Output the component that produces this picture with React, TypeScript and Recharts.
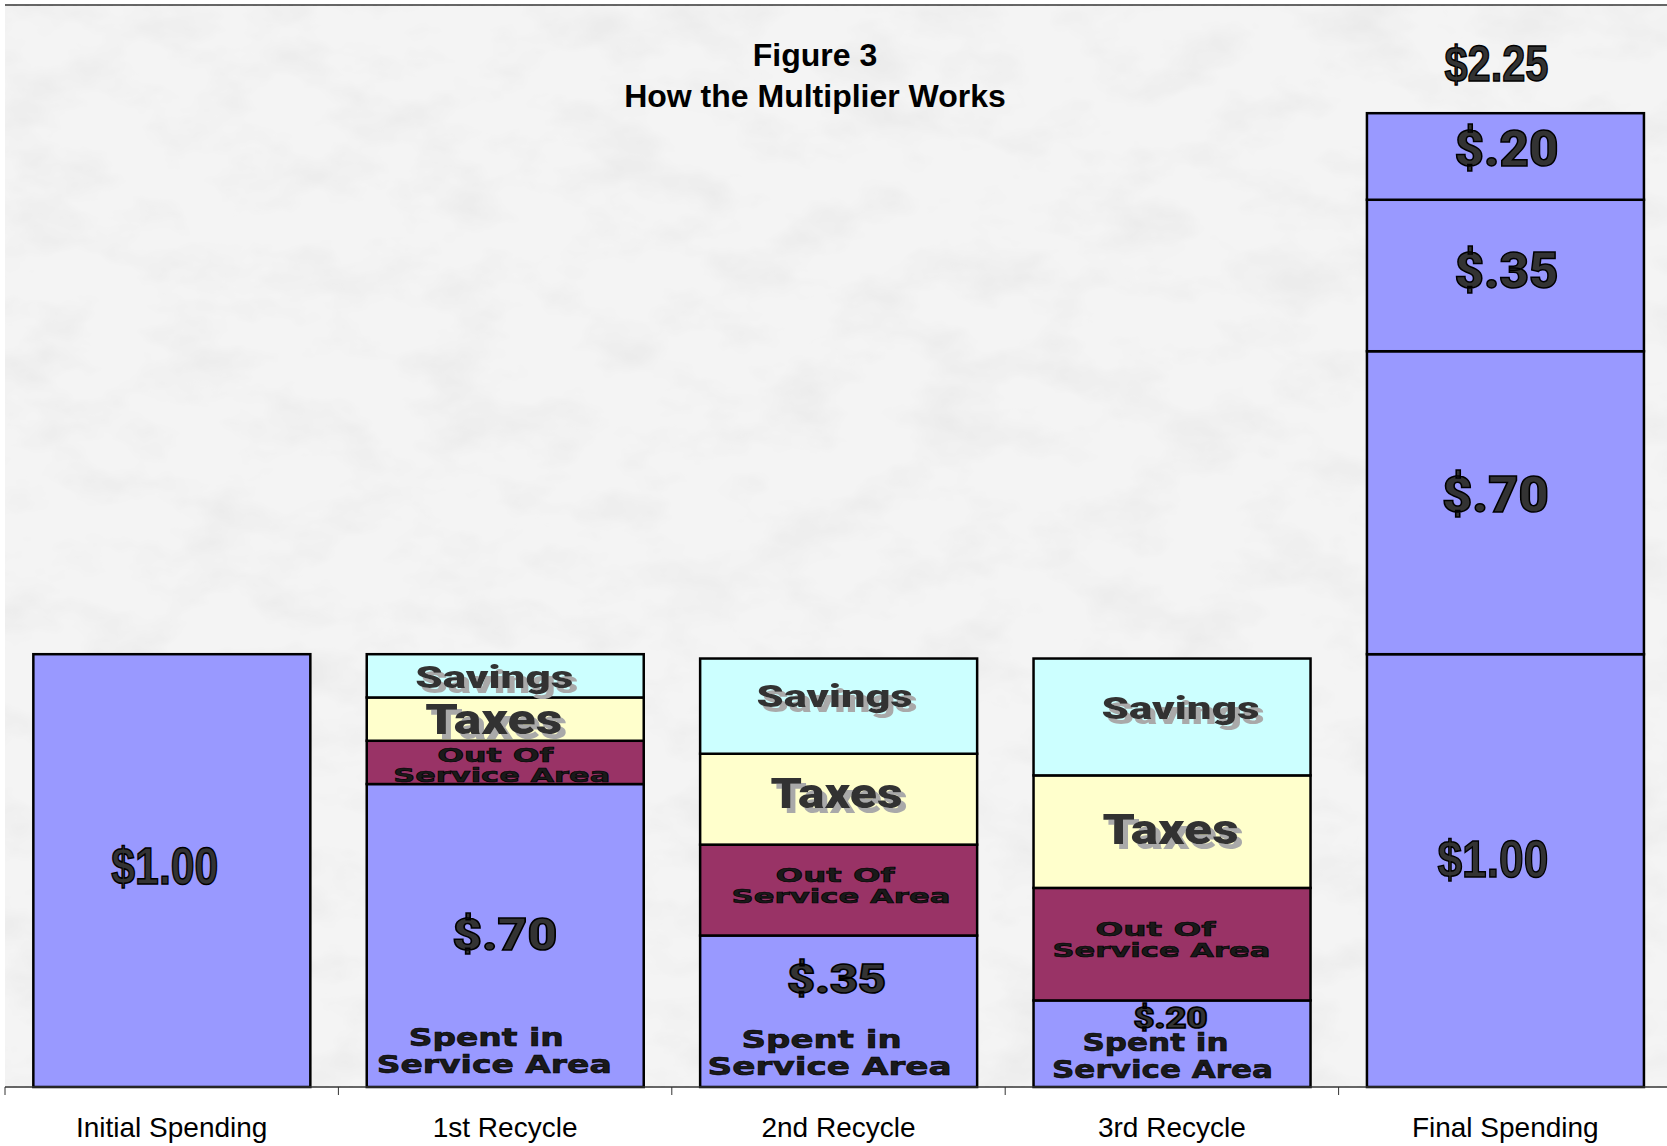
import React from "react";
import { BarChart, Bar, XAxis, YAxis, CartesianGrid, ReferenceLine } from "recharts";

// ---------- data ----------
const categories = ["Initial Spending", "1st Recycle", "2nd Recycle", "3rd Recycle", "Final Spending"];
const spentInServiceArea = [1.0, 0.7, 0.35, 0.2, 1.0];
const outOfServiceArea = [0, 0.1, 0.21, 0.26, 0];
const taxes = [0, 0.1, 0.21, 0.26, 0];
const savings = [0, 0.1, 0.22, 0.27, 0];
const firstRecycleRespent = [0, 0, 0, 0, 0.7];
const secondRecycleRespent = [0, 0, 0, 0, 0.35];
const thirdRecycleRespent = [0, 0, 0, 0, 0.2];
const spentValueLabels = ["$1.00", "$.70", "$.35", "$.20", "$1.00"];
const respentLabels = ["$.70", "$.35", "$.20"];
const totalLabel = "$2.25";
const gridValues = [0.226, 0.983, 1.737];
const titleLines = ["Figure 3", "How the Multiplier Works"];

const data = categories.map((c, i) => ({
  category: c,
  spent: spentInServiceArea[i],
  out: outOfServiceArea[i],
  taxes: taxes[i],
  savings: savings[i],
  r1: firstRecycleRespent[i],
  r2: secondRecycleRespent[i],
  r3: thirdRecycleRespent[i],
}));

// ---------- layout / style ----------
const W = 1672;
const H = 1146;
const MARGIN = { top: 5, right: 0, bottom: 0, left: 5 };
const HALF_BAND = (W - MARGIN.left - MARGIN.right) / categories.length / 2;

const COLORS = {
  spent: "#9999ff",
  out: "#993366",
  taxes: "#ffffcc",
  savings: "#ccffff",
};

const spentValueLayout: any[] = [
  { dx: -7, dy: 13.5, w: 107, fs: 52, condensed: true },
  { dx: -0.5, dy: 14.5, w: 105, fs: 45 },
  { dx: -2, dy: -18, w: 99, fs: 41 },
  { dx: -1.5, dy: -16, w: 74, fs: 29 },
  { dx: -12.5, dy: 6.5, w: 111, fs: 52, condensed: true },
];
const spentTextLayout: any[] = [
  null,
  [{ dx: -19, dy: -41, w: 155 }, { dx: -11, dy: -14, w: 235 }],
  [{ dx: -17, dy: -39, w: 160 }, { dx: -9, dy: -12, w: 244 }],
  [{ dx: -16.5, dy: -36, w: 146 }, { dx: -9.5, dy: -9, w: 221 }],
  null,
];
const outTextLayout: any[] = [
  null,
  [{ dx: -10, dy: -0.5, w: 116 }, { dx: -3.5, dy: 19.5, w: 217 }],
  [{ dx: -3.5, dy: -8, w: 119 }, { dx: 2.5, dy: 13, w: 219 }],
  [{ dx: -16.5, dy: -8, w: 120 }, { dx: -10.5, dy: 13, w: 218 }],
  null,
];
const taxesLayout: any[] = [null, { dx: -11.5, dy: 15, w: 137 }, { dx: -2, dy: 8.5, w: 132 }, { dx: -1.5, dy: 12, w: 136 }, null];
const savingsLayout: any[] = [null, { dx: -11, dy: 12, w: 158 }, { dx: -4, dy: 1, w: 156 }, { dx: 8.5, dy: 2.5, w: 158 }, null];
const respentLayout: any[] = [
  { dx: -10, dy: 9.5, w: 107, fs: 50 },
  { dx: 1, dy: 12.5, w: 104, fs: 50 },
  { dx: 1, dy: 10, w: 104, fs: 50 },
];
const totalLayout = { dx: -9, dy: -32, w: 104, fs: 50, condensed: true };

const WIDE_FONT = "Roboto, 'DejaVu Sans', sans-serif";
const COND_FONT = "'Liberation Sans', Arial, sans-serif";
const EXT_FONT = "'DejaVu Sans', sans-serif";

// ---------- text helpers ----------
const Dollar = ({ x, y, text, l }: any) => (
  <text
    x={x}
    y={y}
    textAnchor="middle"
    textLength={l.w}
    lengthAdjust="spacingAndGlyphs"
    fontFamily={l.condensed ? COND_FONT : WIDE_FONT}
    fontWeight={l.condensed ? 700 : 900}
    fontSize={l.fs}
    fill="#333333"
    stroke="#000"
    strokeWidth={1.5}
  >
    {text}
  </text>
);

const Shadowed = ({ x, y, text, w, fs }: any) => (
  <text x={x} y={y} textAnchor="middle" textLength={w} lengthAdjust="spacingAndGlyphs"
    fontFamily={WIDE_FONT} fontWeight={900} fontSize={fs} fill="#333333" filter="url(#textShadow)">
    {text}
  </text>
);

const Extended = ({ x, y, text, w, fs }: any) => (
  <text x={x} y={y} textAnchor="middle" textLength={w} lengthAdjust="spacingAndGlyphs"
    fontFamily={EXT_FONT} fontWeight={700} fontSize={fs} fill="#1a1a1a" stroke="#000" strokeWidth={0.6}>
    {text}
  </text>
);

// ---------- shapes ----------
const makeShape = (fill: string, labels: (i: number, g: any) => any) => (props: any) => {
  const { x, y, width, height, index } = props;
  if (!height || Math.abs(height) < 0.5) return null;
  const top = Math.min(y, y + height);
  const h = Math.abs(height);
  const g = { cx: x + width / 2, cy: top + h / 2, top, bottom: top + h };
  return (
    <g>
      <rect x={x} y={top} width={width} height={h} fill={fill} stroke="#000" strokeWidth={2.5} />
      {labels(index, g)}
    </g>
  );
};

const spentShape = makeShape(COLORS.spent, (i, g) => {
  const l = spentValueLayout[i];
  const t = spentTextLayout[i];
  return (
    <g>
      <Dollar x={g.cx + l.dx} y={g.cy + l.dy} text={spentValueLabels[i]} l={l} />
      {t && (
        <g>
          <Extended x={g.cx + t[0].dx} y={g.bottom + t[0].dy} text="Spent in" w={t[0].w} fs={24} />
          <Extended x={g.cx + t[1].dx} y={g.bottom + t[1].dy} text="Service Area" w={t[1].w} fs={24} />
        </g>
      )}
    </g>
  );
});

const outShape = makeShape(COLORS.out, (i, g) => {
  const t = outTextLayout[i];
  if (!t) return null;
  return (
    <g>
      <Extended x={g.cx + t[0].dx} y={g.cy + t[0].dy} text="Out Of" w={t[0].w} fs={19} />
      <Extended x={g.cx + t[1].dx} y={g.cy + t[1].dy} text="Service Area" w={t[1].w} fs={19} />
    </g>
  );
});

const taxesShape = makeShape(COLORS.taxes, (i, g) => {
  const l = taxesLayout[i];
  if (!l) return null;
  return <Shadowed x={g.cx + l.dx} y={g.cy + l.dy} text="Taxes" w={l.w} fs={43} />;
});

const savingsShape = makeShape(COLORS.savings, (i, g) => {
  const l = savingsLayout[i];
  if (!l) return null;
  return <Shadowed x={g.cx + l.dx} y={g.cy + l.dy} text="Savings" w={l.w} fs={32} />;
});

const r1Shape = makeShape(COLORS.spent, (i, g) => (
  <Dollar x={g.cx + respentLayout[0].dx} y={g.cy + respentLayout[0].dy} text={respentLabels[0]} l={respentLayout[0]} />
));
const r2Shape = makeShape(COLORS.spent, (i, g) => (
  <Dollar x={g.cx + respentLayout[1].dx} y={g.cy + respentLayout[1].dy} text={respentLabels[1]} l={respentLayout[1]} />
));
const r3Shape = makeShape(COLORS.spent, (i, g) => (
  <g>
    <Dollar x={g.cx + respentLayout[2].dx} y={g.cy + respentLayout[2].dy} text={respentLabels[2]} l={respentLayout[2]} />
    <Dollar x={g.cx + totalLayout.dx} y={g.top + totalLayout.dy} text={totalLabel} l={totalLayout} />
  </g>
));

const CategoryTick = (props: any) => {
  const { x, y, payload } = props;
  const half = typeof payload?.offset === "number" && payload.offset > 0 ? payload.offset : HALF_BAND;
  return (
    <g>
      <line x1={x - half} x2={x - half} y1={y} y2={y + 8} stroke="#333" strokeWidth={1} />
      <text x={x} y={y + 50} textAnchor="middle" fontFamily={COND_FONT} fontSize={28} fill="#000">
        {payload.value}
      </text>
    </g>
  );
};

export default function App() {
  return (
    <div style={{ position: "absolute", left: 0, top: 0, width: 1667, height: 1146, overflow: "hidden", background: "#fff" }}>
      <svg width={0} height={0} style={{ position: "absolute" }}>
        <defs>
          <filter id="marble" x="0" y="0" width="100%" height="100%">
            <feTurbulence type="fractalNoise" baseFrequency="0.012 0.02" numOctaves={4} seed={7} result="n" />
            <feColorMatrix in="n" type="matrix" values="0 0 0 0 0.80  0 0 0 0 0.80  0 0 0 0 0.80  1.6 0 0 0 -0.72" />
          </filter>
          <filter id="textShadow" x="-10%" y="-20%" width="130%" height="160%">
            <feDropShadow dx={5} dy={5} stdDeviation={0.4} floodColor="#a9a9a9" floodOpacity={1} />
          </filter>
          <pattern id="bgPattern" patternUnits="userSpaceOnUse" x={0} y={0} width={W} height={H}>
            <rect x={0} y={0} width={W} height={H} fill="#f4f4f4" />
            <rect x={0} y={0} width={W} height={H} fill="#000" filter="url(#marble)" />
          </pattern>
        </defs>
      </svg>
      <div style={{ position: "absolute", left: 0, top: 0 }}>
        <BarChart width={W} height={H} data={data} margin={MARGIN} barCategoryGap="8.5%">
          <CartesianGrid
            vertical={false}
            fill="url(#bgPattern)"
            stroke="#ffffff"
            strokeWidth={2}
            strokeDasharray="8 4"
          />
          <XAxis
            dataKey="category"
            height={59}
            axisLine={{ stroke: "#333", strokeWidth: 1.5 }}
            tickLine={false}
            tickSize={0}
            tickMargin={0}
            interval={0}
            tick={<CategoryTick />}
          />
          <YAxis
            width={0}
            domain={[0, 2.5]}
            ticks={gridValues}
            tick={false}
            tickLine={false}
            axisLine={{ stroke: "#444", strokeWidth: 1.5 }}
          />
          <ReferenceLine y={2.5} stroke="#333" strokeWidth={1.5} />
          <Bar dataKey="spent" stackId="a" isAnimationActive={false} shape={spentShape} />
          <Bar dataKey="out" stackId="a" isAnimationActive={false} shape={outShape} />
          <Bar dataKey="taxes" stackId="a" isAnimationActive={false} shape={taxesShape} />
          <Bar dataKey="savings" stackId="a" isAnimationActive={false} shape={savingsShape} />
          <Bar dataKey="r1" stackId="a" isAnimationActive={false} shape={r1Shape} />
          <Bar dataKey="r2" stackId="a" isAnimationActive={false} shape={r2Shape} />
          <Bar dataKey="r3" stackId="a" isAnimationActive={false} shape={r3Shape} />
        </BarChart>
      </div>
      <svg width={1667} height={140} style={{ position: "absolute", left: 0, top: 0, pointerEvents: "none" }}>
        <text x={815} y={66} textAnchor="middle" fontFamily={COND_FONT} fontWeight={700} fontSize={32} fill="#000">
          {titleLines[0]}
        </text>
        <text x={815} y={107} textAnchor="middle" fontFamily={COND_FONT} fontWeight={700} fontSize={32} fill="#000">
          {titleLines[1]}
        </text>
      </svg>
    </div>
  );
}
